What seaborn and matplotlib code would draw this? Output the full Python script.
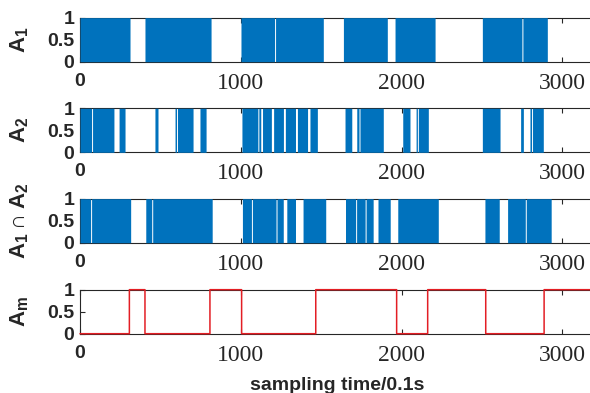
import numpy as np
import pandas as pd
import matplotlib.pyplot as plt
import seaborn as sns

# time axis (samples of 0.1 s)
t_end = 3200
ticks_x = [0, 1000, 2000, 3000]
ticks_y = [0, 0.5, 1]

# intervals where the blue signals are 0 (start, end)
a1_off = [(311, 404), (815, 1001), (1210, 1216), (1513, 1638), (1911, 1959),
          (2208, 2502), (2748, 2754), (2906, 3200)]
a2_off = [(72, 78), (211, 243), (280, 466), (485, 591), (600, 606), (703, 746),
          (784, 1007), (1106, 1112), (1124, 1135), (1190, 1204), (1265, 1277),
          (1340, 1352), (1415, 1430), (1476, 1648), (1690, 1721), (1735, 1741),
          (1886, 2007), (2052, 2090), (2098, 2104), (2166, 2502), (2612, 2740),
          (2757, 2798), (2808, 2814), (2881, 3200)]
a12_off = [(66, 72), (315, 409), (446, 452), (822, 1010), (1066, 1072),
           (1219, 1225), (1264, 1286), (1340, 1387), (1528, 1651), (1714, 1720),
           (1773, 1779), (1823, 1853), (1929, 1976), (2228, 2518), (2607, 2659),
           (2769, 2775), (2930, 3200)]
# intervals where the red signal A_m is 1
am_on = [(307, 404), (808, 1005), (1466, 1969), (2162, 2523), (2886, 3200)]

labels = [r'$\mathbf{A_1}$', r'$\mathbf{A_2}$',
          r'$\mathbf{A_1}\cap\mathbf{A_2}$', r'$\mathbf{A_m}$']


def make_signal(intervals, base):
    t = np.arange(t_end + 1)
    s = np.full(t.shape, base, dtype=float)
    for a, b in intervals:
        s[(t >= a) & (t < b)] = 1 - base
    return pd.DataFrame({'t': t, 'v': s})


sns.set_style('white')
plt.rcParams['mathtext.fontset'] = 'custom'
plt.rcParams['mathtext.bf'] = 'Liberation Sans:bold'
plt.rcParams['mathtext.rm'] = 'Liberation Sans'
plt.rcParams['font.family'] = ['Liberation Sans', 'DejaVu Sans']

fig = plt.figure(figsize=(5.9, 3.93), dpi=100)
bottoms = [0.843, 0.6125, 0.3824, 0.1509]
blue = '#0072BD'
signals = [make_signal(a1_off, 1), make_signal(a2_off, 1),
           make_signal(a12_off, 1), make_signal(am_on, 0)]

for i, (df, lab, b) in enumerate(zip(signals, labels, bottoms)):
    ax = fig.add_axes([0.1356, b, 0.8722, 0.112])
    if i < 3:
        ax.fill_between(df['t'], df['v'], step='post', color=blue, lw=0, zorder=1)
        for sp in ax.spines.values():
            sp.set_zorder(0.6)
        ax.set_axisbelow(True)
    else:
        sns.lineplot(data=df, x='t', y='v', ax=ax, color='#E31E24', lw=1.1,
                     drawstyle='steps-post', zorder=5, clip_on=False)
    ax.set_xlim(0, t_end)
    ax.set_ylim(0, 1)
    ax.set_xticks(ticks_x)
    ax.set_yticks(ticks_y)
    ax.set_yticklabels(['0', '0.5', '1'], fontsize=14, fontweight='bold')
    ax.set_xticklabels([str(v) for v in ticks_x], family='Liberation Serif', fontsize=17)
    xl = ax.get_xticklabels()
    xl[0].set_family('Liberation Sans')
    xl[0].set_fontweight('bold')
    xl[0].set_fontsize(14)
    ax.tick_params(direction='in', length=3.5, width=0.8, color='#262626',
                   top=True, right=True, bottom=True, left=True)
    ax.tick_params(axis='y', pad=4)
    ax.tick_params(axis='x', pad=8)
    for sp in ax.spines.values():
        sp.set_color('#262626')
        sp.set_linewidth(0.8)
    ax.set_ylabel(lab, fontsize=16)
    ax.yaxis.set_label_coords(-0.095, 0.5)
    ax.set_xlabel('')

ax.set_xlabel('sampling time/0.1s', fontsize=14, fontweight='bold', labelpad=8)

fig.savefig('out.png', dpi=100)
